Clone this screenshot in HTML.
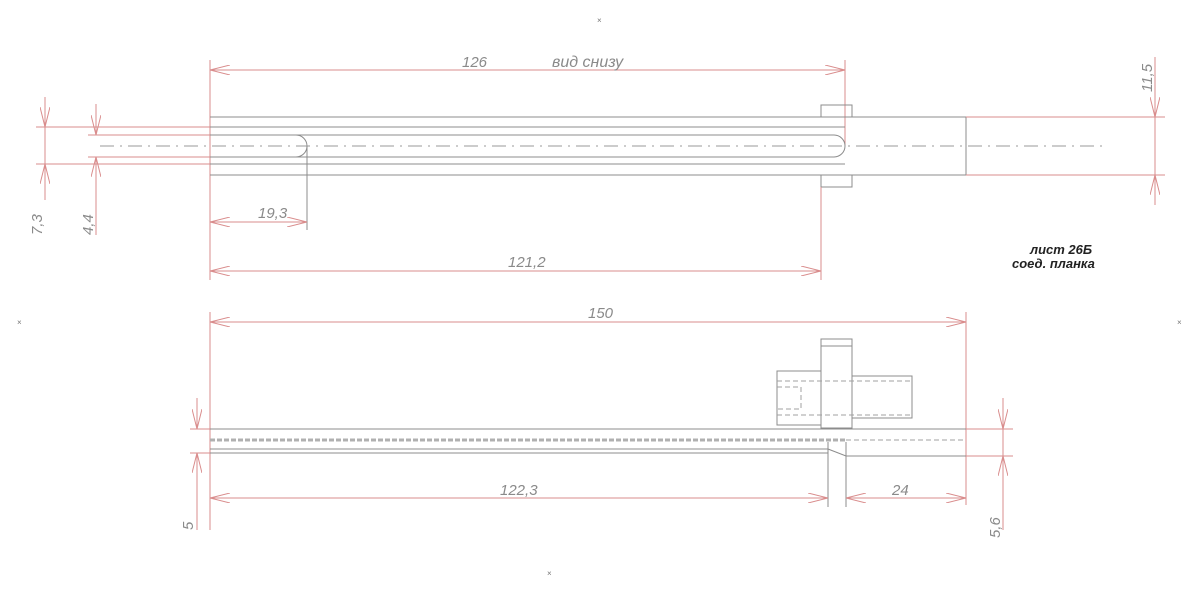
<!DOCTYPE html>
<html><head><meta charset="utf-8"><style>
html,body{margin:0;padding:0;background:#fff;width:1200px;height:595px;overflow:hidden}
svg{display:block}
text{font-family:"Liberation Sans","DejaVu Sans",sans-serif;font-style:italic;fill:#8a8a8a;font-size:15px}
.g{stroke:#8c8c8c;stroke-width:1;fill:none}
.r{stroke:#d98c8c;stroke-width:1;fill:none}
.c{stroke:#9a9a9a;stroke-width:1;stroke-dasharray:14 6 2 6;fill:none}
.d{stroke:#a0a0a0;stroke-width:1;stroke-dasharray:5 3;fill:none}
.dd{stroke:#b0b0b0;stroke-width:3;stroke-dasharray:5 2;fill:none}
.x{font-style:normal;font-size:8px;fill:#777}
</style></head><body>
<svg width="1200" height="595" viewBox="0 0 1200 595">
<defs>
<marker id="a" markerWidth="20" markerHeight="10" refX="20" refY="5" orient="auto-start-reverse" markerUnits="userSpaceOnUse"><path d="M0,0 L20,5 L0,10" fill="none" stroke="#d98c8c"/></marker>
</defs>
<text class="x" x="597" y="23">×</text>
<text class="x" x="17" y="325">×</text>
<text class="x" x="1177" y="325">×</text>
<text class="x" x="547" y="576">×</text>
<!-- TOP VIEW -->
<line class="r" x1="210" y1="60" x2="210" y2="280"/>
<line class="r" x1="845" y1="60" x2="845" y2="146"/>
<line class="r" x1="210" y1="70" x2="845" y2="70" marker-start="url(#a)" marker-end="url(#a)"/>
<text x="462" y="67">126</text>
<text x="552" y="67" style="font-size:16px">вид снизу</text>
<line class="g" x1="210" y1="117" x2="966" y2="117"/>
<line class="g" x1="210" y1="175" x2="966" y2="175"/>
<line class="g" x1="210" y1="127" x2="845" y2="127"/>
<line class="g" x1="210" y1="164" x2="845" y2="164"/>
<line class="g" x1="966" y1="117" x2="966" y2="175"/>
<line class="r" x1="966" y1="117" x2="1165" y2="117"/>
<line class="r" x1="966" y1="175" x2="1165" y2="175"/>
<line class="r" x1="36" y1="127" x2="210" y2="127"/>
<line class="r" x1="36" y1="164" x2="210" y2="164"/>
<path class="g" d="M88,135 L296,135 A11,11 0 0 1 296,157 L88,157"/>
<path class="g" d="M210,135 L834,135 A11,11 0 0 1 834,157 L210,157"/>
<line class="r" x1="88" y1="135" x2="210" y2="135"/>
<line class="r" x1="88" y1="157" x2="210" y2="157"/>
<line class="c" x1="100" y1="146" x2="1105" y2="146"/>
<rect class="g" x="821" y="105" width="31" height="12"/>
<rect class="g" x="821" y="175" width="31" height="12"/>
<line class="r" x1="821" y1="187" x2="821" y2="280"/>
<line class="r" x1="45" y1="97" x2="45" y2="127" marker-end="url(#a)"/>
<line class="r" x1="45" y1="200" x2="45" y2="164" marker-end="url(#a)"/>
<line class="r" x1="45" y1="127" x2="45" y2="164"/>
<text transform="translate(42,235) rotate(-90)">7,3</text>
<line class="r" x1="96" y1="104" x2="96" y2="135" marker-end="url(#a)"/>
<line class="r" x1="96" y1="235" x2="96" y2="157" marker-end="url(#a)"/>
<text transform="translate(93,235) rotate(-90)">4,4</text>
<line class="g" x1="307" y1="146" x2="307" y2="230"/>
<line class="r" x1="210" y1="222" x2="307" y2="222" marker-start="url(#a)" marker-end="url(#a)"/>
<text x="258" y="218">19,3</text>
<line class="r" x1="210" y1="271" x2="821" y2="271" marker-start="url(#a)" marker-end="url(#a)"/>
<text x="508" y="267">121,2</text>
<line class="r" x1="1155" y1="57" x2="1155" y2="117" marker-end="url(#a)"/>
<line class="r" x1="1155" y1="205" x2="1155" y2="175" marker-end="url(#a)"/>
<line class="r" x1="1155" y1="117" x2="1155" y2="175"/>
<text transform="translate(1152,92) rotate(-90)">11,5</text>
<text x="1030" y="254" style="fill:#222;font-weight:bold;font-size:13px">лист 26Б</text>
<text x="1012" y="268" style="fill:#222;font-weight:bold;font-size:13px">соед. планка</text>
<!-- BOTTOM VIEW -->
<line class="r" x1="210" y1="312" x2="210" y2="530"/>
<line class="r" x1="966" y1="312" x2="966" y2="505"/>
<line class="r" x1="210" y1="322" x2="966" y2="322" marker-start="url(#a)" marker-end="url(#a)"/>
<text x="588" y="318">150</text>
<line class="g" x1="210" y1="429" x2="966" y2="429"/>
<line class="dd" x1="210" y1="440" x2="846" y2="440"/>
<line class="d" x1="846" y1="440" x2="966" y2="440"/>
<line class="g" x1="210" y1="449" x2="828" y2="449"/>
<path class="g" d="M828,449 L846,456 L966,456"/>
<line class="g" x1="210" y1="453" x2="828" y2="453"/>
<line class="r" x1="190" y1="429" x2="210" y2="429"/>
<line class="r" x1="190" y1="453" x2="210" y2="453"/>
<line class="r" x1="966" y1="429" x2="1013" y2="429"/>
<line class="r" x1="966" y1="456" x2="1013" y2="456"/>
<rect class="g" x="777" y="371" width="44" height="54"/>
<rect class="g" x="821" y="339" width="31" height="89"/>
<line class="g" x1="821" y1="346" x2="852" y2="346"/>
<rect class="g" x="852" y="376" width="60" height="42"/>
<line class="d" x1="777" y1="381" x2="912" y2="381"/>
<line class="d" x1="777" y1="415" x2="912" y2="415"/>
<path class="d" d="M777,387 L801,387 L801,409 L777,409"/>
<line class="r" x1="197" y1="398" x2="197" y2="429" marker-end="url(#a)"/>
<line class="r" x1="197" y1="530" x2="197" y2="453" marker-end="url(#a)"/>
<text transform="translate(193,530) rotate(-90)">5</text>
<line class="r" x1="1003" y1="398" x2="1003" y2="429" marker-end="url(#a)"/>
<line class="r" x1="1003" y1="530" x2="1003" y2="456" marker-end="url(#a)"/>
<line class="r" x1="1003" y1="429" x2="1003" y2="456"/>
<text transform="translate(1000,538) rotate(-90)">5,6</text>
<line class="g" x1="828" y1="442" x2="828" y2="507"/>
<line class="g" x1="846" y1="442" x2="846" y2="507"/>
<line class="r" x1="210" y1="498" x2="828" y2="498" marker-start="url(#a)" marker-end="url(#a)"/>
<line class="r" x1="846" y1="498" x2="966" y2="498" marker-start="url(#a)" marker-end="url(#a)"/>
<text x="500" y="495">122,3</text>
<text x="892" y="495">24</text>
</svg>
</body></html>
